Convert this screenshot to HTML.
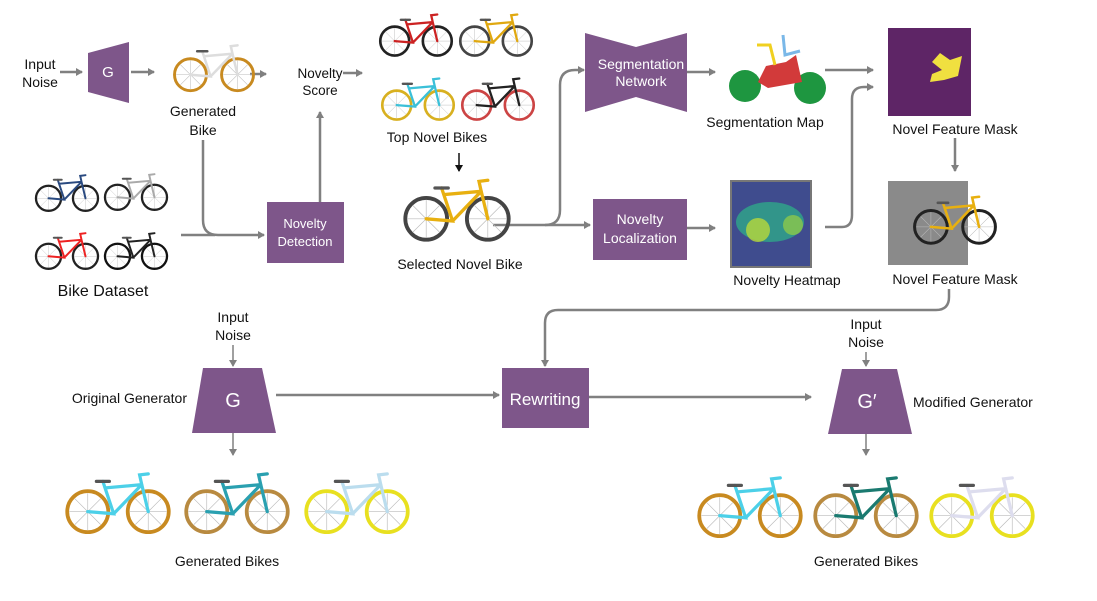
<!DOCTYPE html>
<html><head><meta charset="utf-8"><style>
html,body{margin:0;padding:0;background:#fff}
svg{display:block;font-family:"Liberation Sans",sans-serif}
</style></head><body>
<svg width="1097" height="601" viewBox="0 0 1097 601" xmlns="http://www.w3.org/2000/svg">
<defs>
<marker id="ah" markerWidth="8" markerHeight="8" refX="6" refY="4" orient="auto" markerUnits="userSpaceOnUse">
<path d="M0,0 L7,4 L0,8 Z" fill="#808080"/></marker>
<marker id="ahk" markerWidth="8" markerHeight="8" refX="6" refY="4" orient="auto" markerUnits="userSpaceOnUse">
<path d="M0,0 L7,4 L0,8 Z" fill="#111"/></marker>
<symbol id="bike" viewBox="0 0 100 60">
<g fill="none" stroke-width="3.5">
<circle cx="22" cy="38" r="19"/><circle cx="78" cy="38" r="19"/>
</g>
<g fill="none" stroke="#bbb" stroke-width="0.6">
<path d="M5,38H39M22,21V55M10,26L34,50M10,50L34,26M61,38H95M78,21V55M66,26L90,50M66,50L90,26"/>
</g>
<g fill="none" stroke="currentColor" stroke-width="3" stroke-linecap="round">
<path d="M22,38 L46,40 L38,16 L72,13 L78,38 M46,40 L72,13 M38,16 L36,10 M72,13 L70,4 L78,3"/>
<path d="M30,10 H42" stroke="#555"/>
</g>
</symbol>
</defs>

<g fill="none" stroke="#808080" stroke-width="2.5">
<path d="M60,72H82" marker-end="url(#ah)"/>
<path d="M131,72H154" marker-end="url(#ah)"/>
<path d="M250,74H266" marker-end="url(#ah)"/>
<path d="M343,73H362" marker-end="url(#ah)"/>
<path d="M203,140V220Q203,235 218,235H264" marker-end="url(#ah)"/>
<path d="M181,235H215"/>
<path d="M320,202V112" marker-end="url(#ah)"/>
<path d="M493,225H545Q560,225 560,210V85Q560,70 575,70H584" marker-end="url(#ah)"/>
<path d="M545,225H590" marker-end="url(#ah)"/>
<path d="M687,72H715" marker-end="url(#ah)"/>
<path d="M687,228H715" marker-end="url(#ah)"/>
<path d="M825,70H873" marker-end="url(#ah)"/>
<path d="M825,227H842Q852,227 852,215V99Q852,87 864,87H873" marker-end="url(#ah)"/>
<path d="M955,138V171" marker-end="url(#ah)"/>
<path d="M949,289V297Q949,310 936,310H558Q545,310 545,323V366" marker-end="url(#ah)"/>
<path d="M233,345V366" stroke-width="1.5" marker-end="url(#ah)"/>
<path d="M276,395H499" marker-end="url(#ah)"/>
<path d="M589,397H811" marker-end="url(#ah)"/>
<path d="M866,352V366" stroke-width="1.5" marker-end="url(#ah)"/>
<path d="M233,433V455" stroke-width="1.5" marker-end="url(#ah)"/>
<path d="M866,433V455" stroke-width="1.5" marker-end="url(#ah)"/>
</g>
<path d="M459,153V171" stroke="#111" stroke-width="1.5" marker-end="url(#ahk)"/>

<!-- shapes -->
<polygon points="88,53 129,42 129,103 88,92" fill="#7e568a"/>
<rect x="267" y="202" width="77" height="61" fill="#7e568a"/>
<polygon points="585,33 636,47 687,33 687,112 636,97 585,112" fill="#7e568a"/>
<rect x="593" y="199" width="94" height="61" fill="#7e568a"/>
<rect x="888" y="28" width="83" height="88" fill="#5e2566"/>
<path d="M932,62 L940,53 L950,60 L962,56 L958,76 L944,80 L930,82 L932,74 L942,70 Z" fill="#f0e040"/>
<rect x="731" y="181" width="80" height="86" fill="#3f4c8e" stroke="#777" stroke-width="2"/>
<ellipse cx="770" cy="222" rx="34" ry="20" fill="#2fa88a" opacity="0.8"/>
<ellipse cx="758" cy="230" rx="12" ry="12" fill="#b8d83a" opacity="0.8"/>
<ellipse cx="793" cy="225" rx="10" ry="10" fill="#8cc84a" opacity="0.8"/>
<rect x="888" y="181" width="80" height="84" fill="#8a8a8a"/>
<polygon points="203,368 262,368 276,433 192,433" fill="#7e568a"/>
<rect x="502" y="368" width="87" height="60" fill="#7e568a"/>
<polygon points="842,369 897,369 912,434 828,434" fill="#7e568a"/>

<!-- seg map -->
<circle cx="745" cy="86" r="16" fill="#1e9640"/><circle cx="810" cy="88" r="16" fill="#1e9640"/>
<path d="M758,82 L766,66 L786,62 L796,55 L802,82 L768,88 Z" fill="#d23a3a"/>
<path d="M757,45 L770,45 L775,65" stroke="#f0d020" stroke-width="3" fill="none"/>
<path d="M783,35 L785,55 L800,51" stroke="#7ab8e8" stroke-width="3" fill="none"/>

<!-- bikes -->
<use href="#bike" x="172" y="42" width="84" height="52" stroke="#c88a20" color="#ddd"/>
<use href="#bike" x="378" y="12" width="76" height="46" stroke="#222" color="#c22"/>
<use href="#bike" x="458" y="12" width="76" height="46" stroke="#444" color="#e0a810"/>
<use href="#bike" x="380" y="76" width="76" height="46" stroke="#d8b020" color="#3bc0d8"/>
<use href="#bike" x="460" y="76" width="76" height="46" stroke="#c44" color="#222"/>
<use href="#bike" x="402" y="175" width="110" height="70" stroke="#444" color="#e8b010"/>
<use href="#bike" x="34" y="173" width="66" height="40" stroke="#222" color="#2a4a80"/>
<use href="#bike" x="103" y="170" width="66" height="44" stroke="#222" color="#aaa"/>
<use href="#bike" x="34" y="230" width="66" height="42" stroke="#222" color="#e22"/>
<use href="#bike" x="103" y="230" width="66" height="42" stroke="#111" color="#222"/>
<use href="#bike" x="912" y="192" width="86" height="56" stroke="#222" color="#e8b010"/>
<use href="#bike" x="64" y="468" width="108" height="70" stroke="#c88a20" color="#4cd0e8"/>
<use href="#bike" x="183" y="468" width="108" height="70" stroke="#b88a40" color="#2aa0b0"/>
<use href="#bike" x="303" y="468" width="108" height="70" stroke="#e8e020" color="#bde"/>
<use href="#bike" x="696" y="472" width="108" height="70" stroke="#c88a20" color="#4cd0e8"/>
<use href="#bike" x="812" y="472" width="108" height="70" stroke="#b88a40" color="#1a7a70"/>
<use href="#bike" x="928" y="472" width="108" height="70" stroke="#e8e020" color="#dde"/>

<!-- text -->
<g font-size="14" fill="#111" text-anchor="middle">
<text x="40" y="69">Input</text><text x="40" y="87">Noise</text>
<text x="203" y="116">Generated</text><text x="203" y="135">Bike</text>
<text x="320" y="78" font-size="13.5">Novelty</text><text x="320" y="95" font-size="13.5">Score</text>
<text x="437" y="142">Top Novel Bikes</text>
<text x="460" y="269">Selected Novel Bike</text>
<text x="103" y="296" font-size="16">Bike Dataset</text>
<text x="765" y="127">Segmentation Map</text>
<text x="955" y="134">Novel Feature Mask</text>
<text x="787" y="285">Novelty Heatmap</text>
<text x="955" y="284">Novel Feature Mask</text>
<text x="233" y="322">Input</text><text x="233" y="340">Noise</text>
<text x="866" y="329">Input</text><text x="866" y="347">Noise</text>
<text x="227" y="566">Generated Bikes</text>
<text x="866" y="566">Generated Bikes</text>
<text x="187" y="403" text-anchor="end">Original Generator</text>
<text x="913" y="407" text-anchor="start">Modified Generator</text>
</g>
<g font-size="14" fill="#fff" text-anchor="middle">
<text x="108" y="77" font-size="15">G</text>
<text x="305" y="228" font-size="13">Novelty</text><text x="305" y="246" font-size="13">Detection</text>
<text x="641" y="69">Segmentation</text><text x="641" y="86">Network</text>
<text x="640" y="224">Novelty</text><text x="640" y="243">Localization</text>
<text x="233" y="407" font-size="20">G</text>
<text x="545" y="405" font-size="17">Rewriting</text>
<text x="867" y="408" font-size="20">G′</text>
</g>
</svg>
</body></html>
